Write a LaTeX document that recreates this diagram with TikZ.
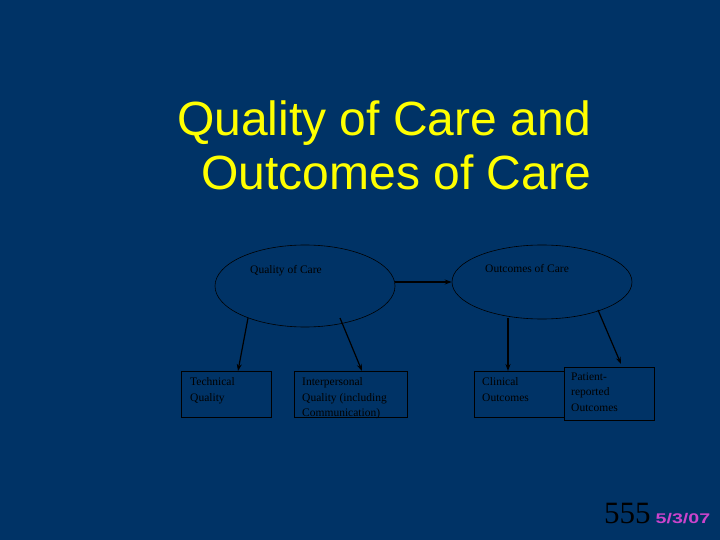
\documentclass[tikz,border=0pt]{standalone}
\usepackage{fontspec}
\setmainfont{Liberation Serif}
\setsansfont{Liberation Sans}
\usetikzlibrary{arrows.meta,shapes.geometric}
\definecolor{bg}{HTML}{003366}
\definecolor{ttl}{HTML}{FFFF00}
\definecolor{dt}{HTML}{CC44CC}
\tikzset{
  oval/.style={draw=black, ellipse, line width=0.6pt},
  leaf/.style={draw=black, line width=0.6pt, minimum width=90pt, minimum height=46pt, inner sep=0pt},
  lbl/.style={font=\fontsize{11.5}{15.5}\selectfont, text=black, align=left, anchor=north west, inner sep=0pt},
  conn/.style={draw=black, line width=1.2pt, -{Stealth[length=7pt,width=5pt]}}
}
\begin{document}
\begin{tikzpicture}[x=1pt,y=-1pt]
\fill[bg] (0,0) rectangle (720,540);
\useasboundingbox (0,0) rectangle (720,540);
% title
\node[anchor=base east, inner sep=0pt, text=ttl, font=\sffamily\fontsize{48}{56}\selectfont] (t1) at (591,136) {Quality of Care and};
\node[anchor=base east, inner sep=0pt, text=ttl, font=\sffamily\fontsize{48}{56}\selectfont] (t2) at (591,190) {Outcomes of Care};
% ellipses
\node[oval, minimum width=180pt, minimum height=82pt, inner sep=0pt] (qc) at (305,286) {};
\node[oval, minimum width=180pt, minimum height=74pt, inner sep=0pt] (oc) at (542,282) {};
\node[lbl, anchor=base west] (qcl) at (250,273) {Quality of Care};
\node[lbl, anchor=base west] (ocl) at (485,272) {Outcomes of Care};
% boxes
\node[leaf] (tq) at (226.5,394) {};
\node[leaf, minimum width=113pt] (iq) at (350.5,394) {};
\node[leaf] (co) at (519,394) {};
\node[leaf, minimum height=53pt] (pr) at (609,393.5) {};
\node[lbl] (tql) at (190,377.5) {Technical\\Quality};
\node[lbl] (iql) at (302,377.5) {Interpersonal\\Quality (including\\Communication)};
\node[lbl] (col) at (482,377.5) {Clinical\\Outcomes};
\node[lbl] (prl) at (571,372.5) {Patient-\\reported\\Outcomes};
% connectors
\coordinate (a1) at (248,318);
\coordinate (a2) at (340,318);
\coordinate (a3) at (508,318);
\coordinate (a4) at (598,310);
\draw[conn] (qc.east |- oc.west) -- (oc.west);
\draw[conn] (a1) -- (238,371);
\draw[conn] (a2) -- (362,371);
\draw[conn] (a3) -- (508,371);
\draw[conn] (a4) -- (621,364);
% footer
\node[anchor=base west, inner sep=0pt, text=black, font=\fontsize{31}{36}\selectfont] (num) at (604,523) {555};
\node[anchor=base west, inner sep=0pt, text=dt, font=\sffamily\bfseries\fontsize{14}{16}\selectfont, xscale=1.4] (date) at ([xshift=4.5pt]num.base east) {5/3/07};
\end{tikzpicture}
\end{document}
